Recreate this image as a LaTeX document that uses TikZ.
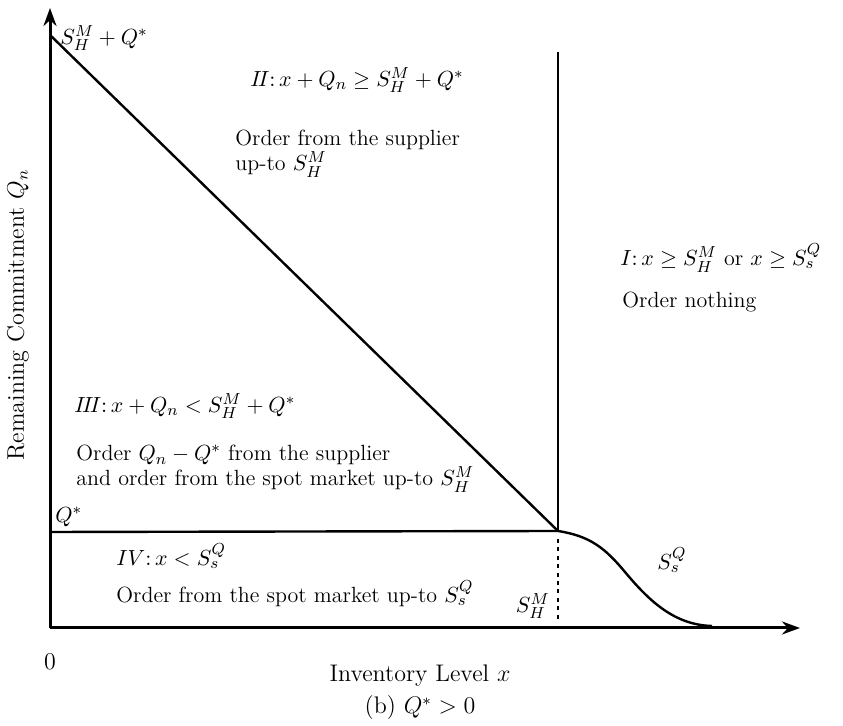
\documentclass[tikz,border=0pt]{standalone}
\usepackage{amssymb}
\usetikzlibrary{arrows.meta}
\begin{document}
\begin{tikzpicture}[x=0.5pt,y=-0.5pt,
  axis/.style={line width=1.5pt,-{Stealth[length=9pt,width=6.5pt]}},
  bound/.style={line width=1.2pt},
  dotline/.style={line width=1.4pt,dash pattern=on 2pt off 2.2pt},
  lbl/.style={inner sep=0pt,font=\fontsize{11}{12.5}\selectfont,align=left},
  axlbl/.style={inner sep=0pt,font=\fontsize{12}{14}\selectfont}]
\useasboundingbox (0,0) rectangle (843,726);
% coordinates
\coordinate (O) at (50,628);
\coordinate (Ytip) at (50,8);
\coordinate (Xtip) at (800,628);
\coordinate (Top) at (50,35);
\coordinate (K) at (558,531);
\coordinate (Qs) at (50,532);
\coordinate (V) at (558,52);
\coordinate (D) at (558,622);
\coordinate (E) at (712,626);
% axes
\draw[axis] (O) -- (Ytip);
\draw[axis] (O) -- (Xtip);
% boundaries
\draw[bound] (Top) -- (K);
\draw[bound] (Qs) -- (K);
\draw[bound] (V) -- (K);
\draw[dotline] (K) ++(0,8) -- (D);
\draw[bound] (K) .. controls (590,536) and (605,548) .. (625,572)
  .. controls (650,602) and (675,625) .. (E);
% labels
\node[lbl,anchor=west] (ltop) at (60,38) {$S_H^M + Q^*$};
\node[lbl,anchor=west] (lII) at (250,80) {$I\!I\colon x + Q_n \geq S_H^M + Q^*$};
\node[lbl,anchor=north west] (tII) at (235,130) {Order from the supplier\\up-to $S_H^M$};
\node[lbl,anchor=west] (lI) at (620,258) {$I\colon x \geq S_H^M$ or $x \geq S_s^Q$};
\node[lbl,anchor=west] (tI) at (622,302) {Order nothing};
\node[lbl,anchor=west] (lIII) at (74,406) {$I\!I\!I\colon x + Q_n < S_H^M + Q^*$};
\node[lbl,anchor=north west] (tIII) at (76,445) {Order $Q_n - Q^*$ from the supplier\\and order from the spot market up-to $S_H^M$};
\node[lbl,anchor=west] (lQ) at (55,517) {$Q^*$};
\node[lbl,anchor=west] (lIV) at (116,556) {$IV\colon x < S_s^Q$};
\node[lbl,anchor=west] (tIV) at (116,594) {Order from the spot market up-to $S_s^Q$};
\node[lbl,anchor=east] (lSH) at (550,606) {$S_H^M$};
\node[lbl] (lSs) at (672,560) {$S_s^Q$};
\node[axlbl] (zero) at (50,662) {0};
\node[axlbl] (xl) at (420,676) {Inventory Level $x$};
\node[axlbl] (cap) at (420,708) {(b) $Q^* > 0$};
\node[axlbl,rotate=90] (yl) at (18,315) {Remaining Commitment $Q_n$};
\end{tikzpicture}
\end{document}
